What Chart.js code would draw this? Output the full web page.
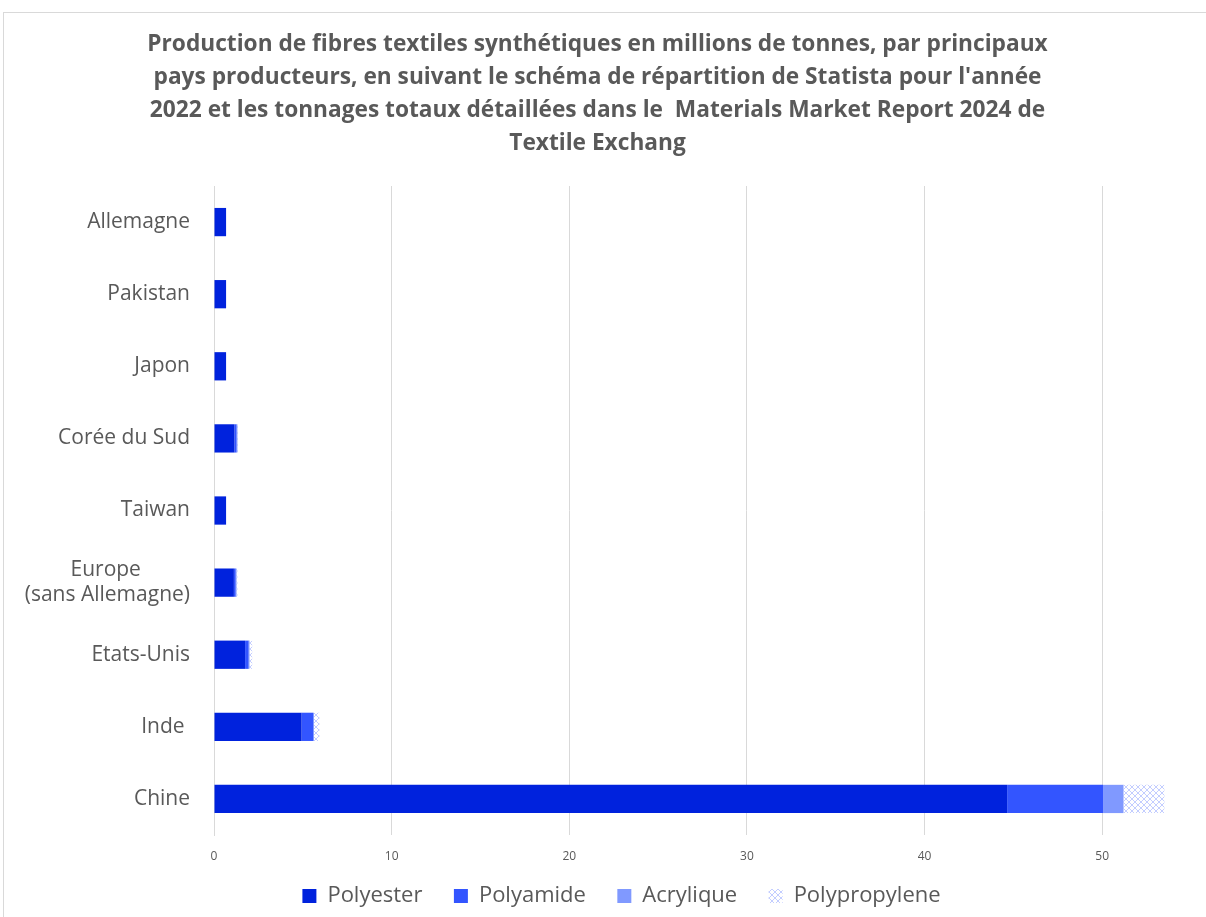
<!DOCTYPE html>
<html lang="fr">
<head>
    <meta charset="UTF-8">
    <title>Production de fibres textiles synthétiques</title>
    <script src="https://cdn.jsdelivr.net/npm/chart.js"></script>
    <style>
        body {
            margin: 0;
            background-color: #ffffff;
        }
        #frame {
            position: absolute;
            left: 3px;
            top: 12px;
            width: 1202px;
            height: 904px;
            border: 1px solid #d9d9d9;
            border-right: none;
            border-bottom: none;
        }
    </style>
</head>
<body>
    <div id="frame">
        <canvas id="myChart" width="1202" height="904"></canvas>
    </div>

    <script>
        // Data (millions of tonnes)
        const NB = '\u00a0';
        const countries = ['Allemagne', 'Pakistan', 'Japon', 'Corée du Sud', 'Taiwan',
            ['Europe' + NB.repeat(9), '(sans Allemagne)'], 'Etats-Unis', 'Inde ', 'Chine'];
        const polyester = [0.68, 0.68, 0.68, 1.15, 0.68, 1.12, 1.75, 4.93, 44.65];
        const polyamide = [0, 0, 0, 0.12, 0, 0.1, 0.2, 0.65, 5.4];
        const acrylique = [0, 0, 0, 0.05, 0, 0.05, 0.05, 0.05, 1.15];
        const polypropylene = [0, 0, 0, 0.03, 0, 0.05, 0.15, 0.3, 2.3];
        const xTicks = [0, 10, 20, 30, 40, 50];

        const titleLines = [
            'Production de fibres textiles synthétiques en millions de tonnes, par principaux',
            "pays producteurs, en suivant le schéma de répartition de Statista pour l'année",
            '2022 et les tonnages totaux détaillées dans le  Materials Market Report 2024 de',
            'Textile Exchang'
        ];

        // light dotted hatch for polypropylene
        function makeHatch() {
            let c = document.createElement('canvas');
            c.width = 6;
            c.height = 6;
            let g = c.getContext('2d');
            g.fillStyle = '#ffffff';
            g.fillRect(0, 0, 6, 6);
            g.strokeStyle = '#c3cdff';
            g.lineWidth = 1;
            g.beginPath();
            g.moveTo(0, 0); g.lineTo(6, 6);
            g.moveTo(6, 0); g.lineTo(0, 6);
            g.stroke();
            return g.createPattern(c, 'repeat');
        }

        const grey = '#595959';
        const font = "'Open Sans', sans-serif";

        // nudge the legend row to the right, like the original
        const legendShift = {
            id: 'legendShift',
            afterLayout(chart) {
                chart.legend.left += 24;
                chart.legend.right += 24;
            }
        };

        const ctx = document.getElementById('myChart').getContext('2d');
        new Chart(ctx, {
            type: 'bar',
            data: {
                labels: countries,
                datasets: [
                    { label: 'Polyester', data: polyester, backgroundColor: '#0022dd' },
                    { label: 'Polyamide', data: polyamide, backgroundColor: '#3355ff' },
                    { label: 'Acrylique', data: acrylique, backgroundColor: '#8099ff' },
                    { label: 'Polypropylene', data: polypropylene, backgroundColor: makeHatch() }
                ]
            },
            plugins: [legendShift],
            options: {
                indexAxis: 'y',
                responsive: false,
                animation: false,
                layout: { padding: { left: 0, right: 15, top: 0, bottom: 0 } },
                datasets: {
                    bar: { categoryPercentage: 0.8, barPercentage: 0.49 }
                },
                scales: {
                    x: {
                        stacked: true,
                        min: 0,
                        max: 55,
                        afterBuildTicks: (scale) => {
                            scale.ticks = xTicks.map(v => ({ value: v }));
                        },
                        afterFit: (scale) => { scale.height = 30; },
                        grid: { color: '#d9d9d9', drawTicks: false },
                        border: { display: false },
                        ticks: {
                            padding: 14,
                            color: grey,
                            font: { family: font, size: 12 }
                        }
                    },
                    y: {
                        stacked: true,
                        afterFit: (scale) => { scale.width = 210; },
                        grid: { display: false, drawTicks: false },
                        border: { display: true, color: '#d9d9d9' },
                        ticks: {
                            padding: 24,
                            color: grey,
                            font: { family: font, size: 21 }
                        }
                    }
                },
                plugins: {
                    title: {
                        display: true,
                        text: titleLines,
                        color: grey,
                        font: { family: font, size: 22.7, weight: 'bold', lineHeight: 1.454 },
                        padding: { top: 15, bottom: 26 }
                    },
                    legend: {
                        position: 'bottom',
                        labels: {
                            color: grey,
                            boxWidth: 14,
                            boxHeight: 14,
                            padding: 20,
                            font: { family: font, size: 22 },
                            generateLabels: (chart) => {
                                let items = Chart.defaults.plugins.legend.labels.generateLabels(chart);
                                items.forEach((it, i) => {
                                    if (i < items.length - 1) it.text += NB.repeat(2);
                                });
                                return items;
                            }
                        }
                    },
                    tooltip: { enabled: false }
                }
            }
        });
    </script>
</body>
</html>
